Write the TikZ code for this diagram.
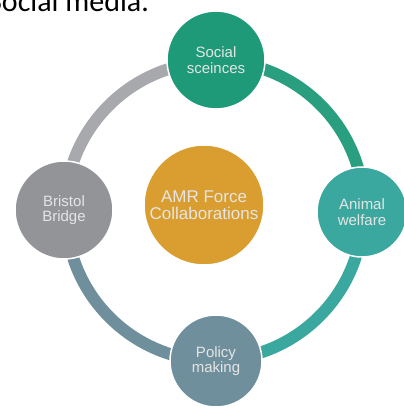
\documentclass[tikz,border=0pt]{standalone}
\usepackage{fontspec}
\setmainfont{Liberation Sans}
\newfontfamily\headfont{Carlito}
\definecolor{socgreen}{HTML}{1F9A78}
\definecolor{anteal}{HTML}{3BA89F}
\definecolor{polblue}{HTML}{6F8F9C}
\definecolor{brigray}{HTML}{929497}
\definecolor{amrgold}{HTML}{D99E2F}
\tikzset{
	topic/.style={circle, draw=white, line width=1.5pt, align=center, inner sep=0pt,
		text=white!90!black, font=\fontsize{15}{15.5}\selectfont},
	ring/.style={line width=12pt}
}
\begin{document}
\begin{tikzpicture}[x=1pt,y=1pt]
		\useasboundingbox (0,0) rectangle (404,408);
		%heading line, cut by the top edge
		\node (head) at (-12,396) [anchor=base west, inner sep=0pt, font=\headfont\fontsize{30}{30}\selectfont] {Social media.};

		%points on the ring (centre 214,197 - radius 150)
		\coordinate (ptop) at (215,347);
		\coordinate (pright) at (363,197);
		\coordinate (pbottom) at (215,47);
		\coordinate (pleft) at (65,197);

		%ring pieces, each in the colour of the circle it leaves
		\draw[ring, socgreen!95!white] (ptop) arc[start angle=90, end angle=0, radius=149];
		\draw[ring, anteal] (pright) arc[start angle=0, end angle=-90, radius=149];
		\draw[ring, polblue] (pbottom) arc[start angle=-90, end angle=-180, radius=149];
		\draw[ring, brigray!80!white] (pleft) arc[start angle=180, end angle=90, radius=149];

		%topic circles (r 45-49)
		\node (soc) at (216,348) [topic, fill=socgreen, minimum size=98pt] {Social\\sceinces};
		\node (ani) at (362,196) [topic, fill=anteal, minimum size=90pt] {Animal\\welfare};
		\node (pol) at (216,47) [topic, fill=polblue, minimum size=92pt] {Policy\\making};
		\node (bri) at (64,198) [topic, fill=brigray, minimum size=98pt] {Bristol\\Bridge};

		%centre circle
		\node (amr) at (204,203) [topic, fill=amrgold, minimum size=120pt, font=\fontsize{17}{16.5}\selectfont] {AMR Force\\Collaborations};
\end{tikzpicture}
\end{document}
